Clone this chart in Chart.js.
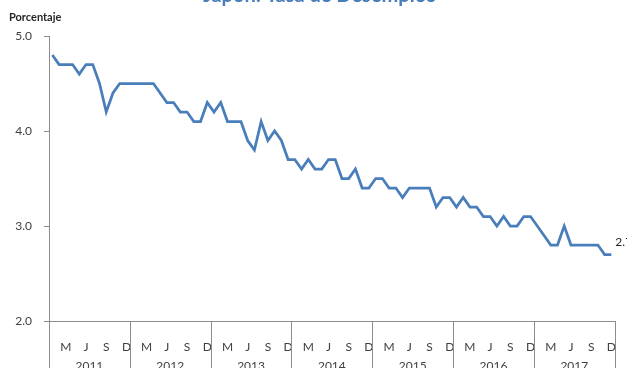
<!DOCTYPE html>
<html lang="es">
<head>
<meta charset="utf-8">
<title>Japón: Tasa de Desempleo</title>
<script src="https://cdn.jsdelivr.net/npm/chart.js@4/dist/chart.umd.min.js"></script>
<style>
  html, body { margin: 0; padding: 0; background: #fff; }
  #wrap { position: relative; width: 627px; height: 368px; }
</style>
</head>
<body>
<div id="wrap"><canvas id="grafica"></canvas></div>
<script>
// Tasa de desempleo mensual (%), enero 2011 - diciembre 2017
const anios = [2011, 2012, 2013, 2014, 2015, 2016, 2017];
const meses = ['E', 'F', 'M', 'A', 'M', 'J', 'J', 'A', 'S', 'O', 'N', 'D'];
const tasa2011 = [4.8, 4.7, 4.7, 4.7, 4.6, 4.7, 4.7, 4.5, 4.2, 4.4, 4.5, 4.5];
const tasa2012 = [4.5, 4.5, 4.5, 4.5, 4.4, 4.3, 4.3, 4.2, 4.2, 4.1, 4.1, 4.3];
const tasa2013 = [4.2, 4.3, 4.1, 4.1, 4.1, 3.9, 3.8, 4.1, 3.9, 4.0, 3.9, 3.7];
const tasa2014 = [3.7, 3.6, 3.7, 3.6, 3.6, 3.7, 3.7, 3.5, 3.5, 3.6, 3.4, 3.4];
const tasa2015 = [3.5, 3.5, 3.4, 3.4, 3.3, 3.4, 3.4, 3.4, 3.4, 3.2, 3.3, 3.3];
const tasa2016 = [3.2, 3.3, 3.2, 3.2, 3.1, 3.1, 3.0, 3.1, 3.0, 3.0, 3.1, 3.1];
const tasa2017 = [3.0, 2.9, 2.8, 2.8, 3.0, 2.8, 2.8, 2.8, 2.8, 2.8, 2.7, 2.7];
const ejeY = [2.0, 3.0, 4.0, 5.0];

const tasa = [].concat(tasa2011, tasa2012, tasa2013, tasa2014, tasa2015, tasa2016, tasa2017);
const etiquetas = [];
anios.forEach(a => meses.forEach(m => etiquetas.push(m)));

const AZUL = '#4a7ebb';
const GRIS = '#8c8c8c';
const TEXTO = '#404040';
const FUENTE = 'Lato, "Open Sans", sans-serif';

// Textos fijos, separadores de año y dato final
const extras = {
    id: 'extras',
    afterDraw(chart) {
        const { ctx, chartArea: a, scales: { x, y } } = chart;
        ctx.save();

        // lineas verticales entre años
        ctx.strokeStyle = GRIS;
        ctx.lineWidth = 1;
        for (let k = 0; k <= anios.length; k++) {
            let px;
            if (k === 0) px = a.left;
            else if (k === anios.length) px = a.right;
            else px = (x.getPixelForValue(12 * k - 1) + x.getPixelForValue(12 * k)) / 2;
            px = Math.round(px) + 0.5;
            ctx.beginPath();
            ctx.moveTo(px, a.bottom);
            ctx.lineTo(px, chart.height);
            ctx.stroke();
        }

        // años
        ctx.fillStyle = TEXTO;
        ctx.font = '12px ' + FUENTE;
        ctx.textAlign = 'center';
        ctx.textBaseline = 'middle';
        anios.forEach((anio, k) => {
            const cx = (x.getPixelForValue(12 * k) + x.getPixelForValue(12 * k + 11)) / 2;
            ctx.fillText(String(anio), cx, a.bottom + 45);
        });

        // titulo del eje
        ctx.fillStyle = '#262626';
        ctx.font = 'bold 11px ' + FUENTE;
        ctx.textAlign = 'left';
        ctx.fillText('Porcentaje', 9, 17);

        // titulo
        ctx.fillStyle = AZUL;
        ctx.font = 'bold 20px ' + FUENTE;
        ctx.textAlign = 'center';
        ctx.textBaseline = 'alphabetic';
        ctx.fillText('Japón: Tasa de Desempleo', 320, 1.5);

        // ultimo dato
        const ult = tasa.length - 1;
        ctx.fillStyle = '#262626';
        ctx.font = '12px ' + FUENTE;
        ctx.textAlign = 'left';
        ctx.textBaseline = 'middle';
        ctx.fillText(tasa[ult].toFixed(1), x.getPixelForValue(ult) + 4, y.getPixelForValue(tasa[ult]) - 12);

        ctx.restore();
    }
};

new Chart(document.getElementById('grafica'), {
    type: 'line',
    data: {
        labels: etiquetas,
        datasets: [{
            data: tasa,
            borderColor: AZUL,
            borderWidth: 2.75,
            pointRadius: 0,
            tension: 0,
            fill: false
        }]
    },
    options: {
        responsive: true,
        maintainAspectRatio: false,
        animation: false,
        events: [],
        layout: { padding: { top: 36, right: 11, left: 0, bottom: 0 } },
        plugins: {
            legend: { display: false },
            title: { display: false },
            tooltip: { enabled: false }
        },
        scales: {
            x: {
                type: 'category',
                offset: true,
                afterFit: s => { s.height = 47; },
                grid: { display: false },
                border: { display: true, color: GRIS, width: 1 },
                ticks: {
                    autoSkip: false,
                    maxRotation: 0,
                    padding: 11,
                    color: TEXTO,
                    font: { family: FUENTE, size: 12 },
                    callback: function (value, index) {
                        return index % 3 === 2 ? this.getLabelForValue(value) : '';
                    }
                }
            },
            y: {
                min: ejeY[0],
                max: ejeY[ejeY.length - 1],
                afterFit: s => { s.width = 49; },
                afterBuildTicks: s => { s.ticks = ejeY.map(v => ({ value: v })); },
                grid: {
                    drawOnChartArea: false,
                    drawTicks: true,
                    tickLength: 5,
                    color: GRIS
                },
                border: { display: true, color: GRIS, width: 1 },
                ticks: {
                    padding: 12,
                    color: TEXTO,
                    font: { family: FUENTE, size: 12 },
                    callback: v => Number(v).toFixed(1)
                }
            }
        }
    },
    plugins: [extras]
});
</script>
</body>
</html>
